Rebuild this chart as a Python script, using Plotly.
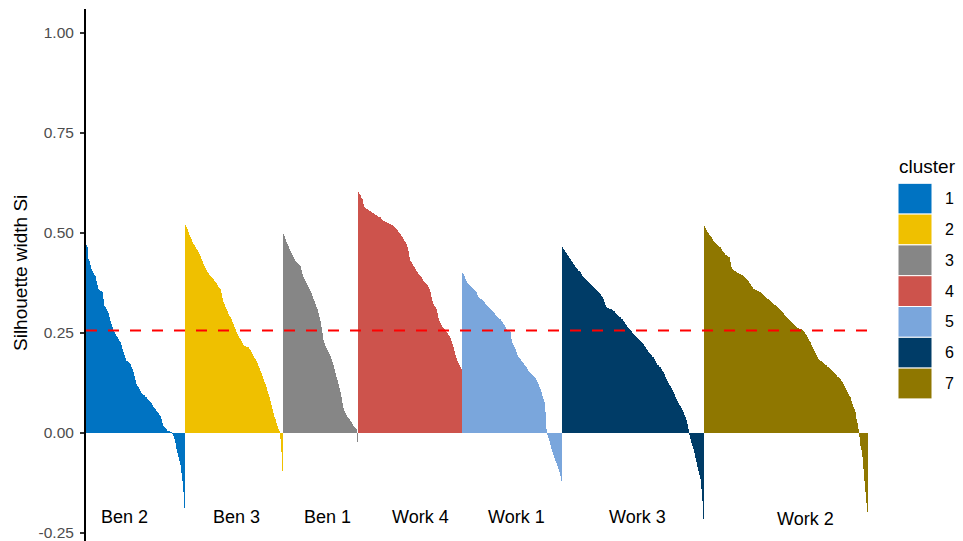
import plotly.graph_objects as go

# Silhouette widths per cluster, sorted in decreasing order within each cluster
sil_c1 = [0.470, 0.464, 0.435, 0.430, 0.420, 0.410, 0.405, 0.400, 0.395, 0.393,
          0.380, 0.370, 0.360, 0.358, 0.356, 0.354, 0.352, 0.335, 0.318, 0.315,
          0.310, 0.305, 0.300, 0.290, 0.281, 0.273, 0.265, 0.256, 0.252, 0.248,
          0.243, 0.240, 0.235, 0.230, 0.227, 0.220, 0.210, 0.203, 0.196, 0.188,
          0.181, 0.179, 0.177, 0.175, 0.172, 0.166, 0.159, 0.152, 0.142, 0.132,
          0.123, 0.118, 0.114, 0.109, 0.105, 0.100, 0.098, 0.096, 0.094, 0.091,
          0.089, 0.086, 0.082, 0.079, 0.077, 0.074, 0.070, 0.066, 0.063, 0.060,
          0.056, 0.053, 0.049, 0.046, 0.043, 0.035, 0.026, 0.018, 0.015, 0.012,
          0.009, 0.006, 0.004, 0.003, 0.002, 0.001, -0.002, -0.007, -0.015, -0.025,
          -0.040, -0.050, -0.060, -0.070, -0.080, -0.100, -0.120, -0.148, -0.188]

sil_c2 = [0.520, 0.515, 0.510, 0.503, 0.496, 0.489, 0.484, 0.478, 0.473, 0.469,
          0.465, 0.461, 0.457, 0.452, 0.447, 0.443, 0.436, 0.429, 0.423, 0.418,
          0.412, 0.407, 0.403, 0.399, 0.396, 0.393, 0.390, 0.388, 0.385, 0.381,
          0.377, 0.374, 0.370, 0.366, 0.363, 0.360, 0.349, 0.338, 0.328, 0.322,
          0.316, 0.311, 0.305, 0.298, 0.292, 0.289, 0.284, 0.278, 0.273, 0.266,
          0.259, 0.253, 0.248, 0.243, 0.238, 0.235, 0.230, 0.225, 0.220, 0.218,
          0.217, 0.216, 0.215, 0.214, 0.211, 0.207, 0.203, 0.198, 0.193, 0.188,
          0.185, 0.179, 0.174, 0.168, 0.162, 0.155, 0.149, 0.142, 0.134, 0.127,
          0.122, 0.114, 0.106, 0.098, 0.089, 0.079, 0.070, 0.060, 0.050, 0.040,
          0.035, 0.026, 0.018, 0.010, 0.003, -0.015, -0.048, -0.094]

sil_c3 = [0.497, 0.493, 0.485, 0.478, 0.472, 0.467, 0.461, 0.456, 0.451, 0.445,
          0.440, 0.435, 0.431, 0.428, 0.425, 0.422, 0.420, 0.418, 0.408, 0.398,
          0.390, 0.385, 0.379, 0.374, 0.370, 0.365, 0.360, 0.356, 0.349, 0.342,
          0.336, 0.329, 0.322, 0.316, 0.310, 0.300, 0.290, 0.281, 0.266, 0.250,
          0.232, 0.224, 0.218, 0.212, 0.208, 0.203, 0.198, 0.193, 0.186, 0.177,
          0.169, 0.160, 0.150, 0.140, 0.132, 0.122, 0.112, 0.102, 0.089, 0.075,
          0.062, 0.055, 0.050, 0.045, 0.041, 0.037, 0.034, 0.031, 0.027, 0.022,
          0.018, 0.015, 0.012, 0.010, -0.023]

sil_c4 = [0.603, 0.598, 0.594, 0.588, 0.584, 0.572, 0.566, 0.563, 0.561, 0.559,
          0.557, 0.555, 0.554, 0.553, 0.551, 0.550, 0.548, 0.546, 0.544, 0.543,
          0.541, 0.540, 0.539, 0.536, 0.533, 0.531, 0.530, 0.528, 0.527, 0.526,
          0.524, 0.523, 0.522, 0.521, 0.519, 0.518, 0.515, 0.513, 0.510, 0.507,
          0.503, 0.500, 0.497, 0.493, 0.489, 0.485, 0.481, 0.477, 0.473, 0.465,
          0.455, 0.440, 0.431, 0.427, 0.422, 0.418, 0.414, 0.410, 0.406, 0.402,
          0.398, 0.395, 0.393, 0.389, 0.385, 0.381, 0.378, 0.375, 0.372, 0.369,
          0.365, 0.361, 0.352, 0.339, 0.330, 0.323, 0.318, 0.314, 0.310, 0.300,
          0.287, 0.280, 0.274, 0.269, 0.265, 0.262, 0.259, 0.256, 0.253, 0.250,
          0.246, 0.242, 0.238, 0.230, 0.222, 0.214, 0.205, 0.196, 0.187, 0.180,
          0.174, 0.169, 0.164, 0.160]

sil_c5 = [0.400, 0.398, 0.392, 0.386, 0.380, 0.376, 0.373, 0.370, 0.368, 0.365,
          0.362, 0.360, 0.358, 0.355, 0.353, 0.346, 0.340, 0.338, 0.336, 0.334,
          0.332, 0.331, 0.327, 0.323, 0.319, 0.317, 0.314, 0.312, 0.310, 0.307,
          0.305, 0.302, 0.299, 0.296, 0.293, 0.291, 0.288, 0.286, 0.285, 0.281,
          0.277, 0.273, 0.269, 0.265, 0.261, 0.258, 0.256, 0.254, 0.252, 0.235,
          0.225, 0.219, 0.214, 0.210, 0.203, 0.196, 0.190, 0.187, 0.184, 0.181,
          0.178, 0.174, 0.171, 0.168, 0.164, 0.160, 0.156, 0.153, 0.150, 0.148,
          0.145, 0.142, 0.140, 0.138, 0.133, 0.128, 0.123, 0.116, 0.109, 0.102,
          0.093, 0.085, 0.077, 0.052, 0.010, -0.005, -0.012, -0.020, -0.030, -0.040,
          -0.048, -0.055, -0.062, -0.070, -0.076, -0.083, -0.090, -0.098, -0.107, -0.120]

sil_c6 = [0.466, 0.461, 0.457, 0.453, 0.450, 0.446, 0.442, 0.438, 0.435, 0.431,
          0.427, 0.423, 0.419, 0.415, 0.412, 0.409, 0.406, 0.404, 0.402, 0.398,
          0.393, 0.389, 0.387, 0.384, 0.382, 0.380, 0.378, 0.375, 0.372, 0.370,
          0.367, 0.364, 0.362, 0.359, 0.357, 0.354, 0.352, 0.349, 0.347, 0.343,
          0.339, 0.335, 0.328, 0.321, 0.315, 0.313, 0.312, 0.311, 0.310, 0.309,
          0.307, 0.306, 0.304, 0.301, 0.298, 0.296, 0.293, 0.291, 0.289, 0.286,
          0.284, 0.281, 0.277, 0.273, 0.269, 0.266, 0.263, 0.260, 0.258, 0.255,
          0.251, 0.248, 0.245, 0.242, 0.240, 0.238, 0.236, 0.233, 0.231, 0.228,
          0.225, 0.222, 0.218, 0.214, 0.211, 0.207, 0.203, 0.199, 0.197, 0.194,
          0.191, 0.189, 0.184, 0.179, 0.174, 0.171, 0.169, 0.166, 0.164, 0.160,
          0.156, 0.152, 0.147, 0.141, 0.136, 0.131, 0.126, 0.121, 0.118, 0.113,
          0.107, 0.102, 0.097, 0.091, 0.086, 0.081, 0.076, 0.071, 0.068, 0.063,
          0.057, 0.052, 0.046, 0.040, 0.033, 0.022, 0.010, -0.005, -0.015, -0.024,
          -0.032, -0.040, -0.051, -0.062, -0.072, -0.084, -0.095, -0.105, -0.115, -0.140,
          -0.170, -0.215]

sil_c7 = [0.518, 0.513, 0.508, 0.503, 0.499, 0.495, 0.492, 0.490, 0.486, 0.481,
          0.477, 0.475, 0.473, 0.471, 0.468, 0.466, 0.464, 0.460, 0.456, 0.452,
          0.449, 0.446, 0.444, 0.442, 0.441, 0.440, 0.427, 0.414, 0.411, 0.408,
          0.406, 0.404, 0.402, 0.401, 0.400, 0.398, 0.397, 0.396, 0.394, 0.392,
          0.390, 0.388, 0.386, 0.383, 0.379, 0.376, 0.372, 0.368, 0.364, 0.360,
          0.359, 0.358, 0.357, 0.355, 0.354, 0.353, 0.352, 0.350, 0.347, 0.345,
          0.343, 0.341, 0.338, 0.336, 0.334, 0.332, 0.331, 0.328, 0.325, 0.322,
          0.321, 0.319, 0.317, 0.315, 0.312, 0.310, 0.308, 0.305, 0.302, 0.299,
          0.296, 0.293, 0.290, 0.288, 0.286, 0.283, 0.281, 0.278, 0.275, 0.273,
          0.270, 0.267, 0.264, 0.263, 0.262, 0.261, 0.260, 0.259, 0.257, 0.256,
          0.252, 0.248, 0.244, 0.239, 0.234, 0.229, 0.227, 0.221, 0.216, 0.210,
          0.205, 0.199, 0.194, 0.190, 0.186, 0.183, 0.181, 0.179, 0.177, 0.175,
          0.173, 0.171, 0.169, 0.166, 0.164, 0.162, 0.160, 0.158, 0.155, 0.152,
          0.150, 0.147, 0.144, 0.141, 0.139, 0.137, 0.135, 0.131, 0.127, 0.123,
          0.118, 0.112, 0.107, 0.102, 0.097, 0.092, 0.089, 0.081, 0.073, 0.066,
          0.059, 0.052, 0.035, 0.024, 0.010, -0.010, -0.032, -0.042, -0.060, -0.090,
          -0.120, -0.148, -0.175, -0.198]

clusters = ["1", "2", "3", "4", "5", "6", "7"]
cluster_names = ["Ben 2", "Ben 3", "Ben 1", "Work 4", "Work 1", "Work 3", "Work 2"]
colors = ["#0073C2", "#EFC000", "#868686", "#CD534C", "#7AA6DC", "#003C67", "#8F7700"]
avg_width = 0.256
sil_all = [sil_c1, sil_c2, sil_c3, sil_c4, sil_c5, sil_c6, sil_c7]

# where each group name sits: (bar index, silhouette value)
name_pos = [(38, -0.21), (150, -0.21), (241, -0.21), (334, -0.21),
            (430, -0.21), (551, -0.21), (719, -0.215)]

FONT = "Liberation Sans, Arial, Helvetica, sans-serif"
W, H = 963, 541
ML, MR, MT, MB = 86, 95, 9, 0
PW, PH = W - ML - MR, H - MT - MB


def px_x(px):
    return (px - ML) / PW


def px_y(py):
    return (H - MB - py) / PH


fig = go.Figure()
start = 0
for name, vals, col in zip(clusters, sil_all, colors):
    xs = list(range(start, start + len(vals)))
    fig.add_trace(go.Bar(
        x=xs, y=vals, name=name, width=1.0,
        marker=dict(color=col, line=dict(width=0)),
        showlegend=False, hoverinfo="y",
    ))
    start += len(vals)
n_total = start

# mean silhouette width
fig.add_shape(type="line", xref="x", yref="y",
              x0=-0.5, x1=n_total - 0.5, y0=avg_width, y1=avg_width,
              line=dict(color="#FF0000", width=2, dash="11px,11px"))

annotations = []
for label, (xi, yv) in zip(cluster_names, name_pos):
    annotations.append(dict(x=xi, y=yv, xref="x", yref="y", text=label,
                            showarrow=False, xanchor="center", yanchor="middle",
                            font=dict(family=FONT, size=18, color="#000000")))

# y axis title
annotations.append(dict(x=px_x(20), y=px_y(273), xref="paper", yref="paper",
                        text="Silhouette width Si", textangle=-90, showarrow=False,
                        xanchor="center", yanchor="middle",
                        font=dict(family=FONT, size=19, color="#000000")))

# legend drawn as keys + labels
annotations.append(dict(x=px_x(897), y=px_y(166), xref="paper", yref="paper",
                        text="cluster", showarrow=False, xanchor="left", yanchor="middle",
                        font=dict(family=FONT, size=19, color="#000000")))
shapes = []
key_top, key_h = 183.3, 30.8
for k, (name, col) in enumerate(zip(clusters, colors)):
    y0 = key_top + k * key_h
    y1 = y0 + key_h
    shapes.append(dict(type="rect", xref="paper", yref="paper",
                       x0=px_x(898), x1=px_x(932), y0=px_y(y1), y1=px_y(y0),
                       fillcolor=col, line=dict(color="#FFFFFF", width=1)))
    annotations.append(dict(x=px_x(943), y=px_y((y0 + y1) / 2), xref="paper", yref="paper",
                            text=name, showarrow=False, xanchor="left", yanchor="middle",
                            font=dict(family=FONT, size=16, color="#000000")))

for s in shapes:
    fig.add_shape(**s)

tick_vals = [-0.25, 0.0, 0.25, 0.5, 0.75, 1.0]
tick_text = ["-0.25", "0.00", "0.25", "0.50", "0.75", "1.00"]

fig.update_layout(
    width=W, height=H,
    margin=dict(l=ML, r=MR, t=MT, b=MB, pad=0),
    paper_bgcolor="#FFFFFF", plot_bgcolor="#FFFFFF",
    barmode="overlay", bargap=0,
    showlegend=False,
    annotations=annotations,
    font=dict(family=FONT),
    xaxis=dict(range=[-0.5, n_total - 0.5], showgrid=False, zeroline=False,
               showticklabels=False, ticks="", showline=False, fixedrange=True,
               automargin=False),
    yaxis=dict(range=[-0.27, 1.06], showgrid=False, zeroline=False,
               tickmode="array", tickvals=tick_vals, ticktext=tick_text,
               ticks="outside", ticklen=4, tickwidth=1.5, tickcolor="#333333",
               tickfont=dict(family=FONT, size=15.5, color="#4D4D4D"),
               showline=True, linecolor="#000000", linewidth=2,
               ticklabelstandoff=3, ticklabeloverflow="allow", fixedrange=True,
               automargin=False),
)

fig.write_html("out.html")
